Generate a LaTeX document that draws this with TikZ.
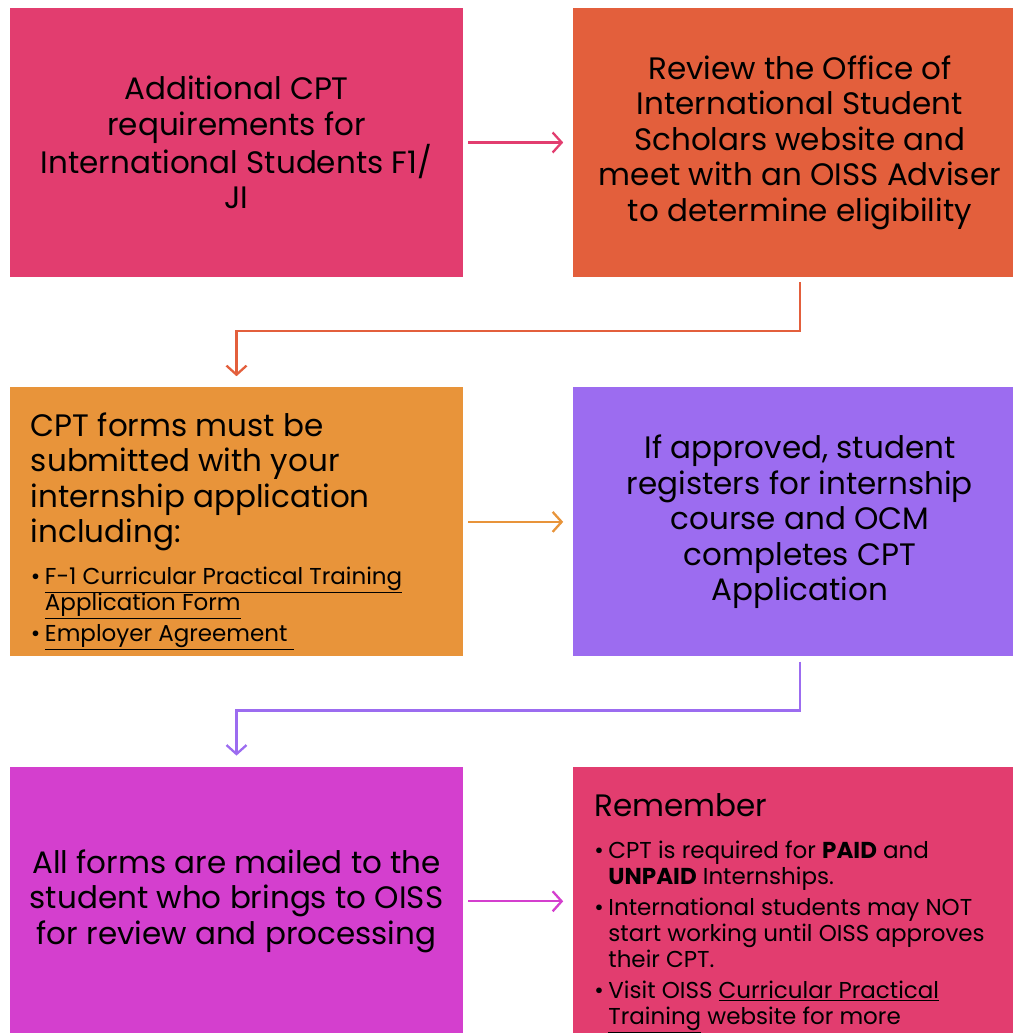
\documentclass[tikz,border=0pt]{standalone}
\usepackage{fontspec}
\setmainfont{Poppins}
\usetikzlibrary{positioning, arrows.meta}

\definecolor{cpink}{HTML}{E23D6F}
\definecolor{cred}{HTML}{E35F3C}
\definecolor{corange}{HTML}{E8943A}
\definecolor{cpurple}{HTML}{9C6CF0}
\definecolor{cmagenta}{HTML}{D43FCE}

\newcommand{\bigtxt}{\fontsize{31}{35.5}\selectfont}
\newcommand{\smalltxt}{\fontsize{23}{26}\selectfont}
\newcommand{\itm}[1]{\par\vspace{5pt}\hangindent=14pt\hangafter=1\noindent\makebox[14pt][l]{\textbullet}#1}

\tikzset{node distance=110pt, % gap between the boxes
    box/.style={ % coloured step boxes
    rectangle,
    minimum width=453pt,
    minimum height=269pt,
    inner sep=0pt,
    align=center,
    font=\bigtxt},
    flow/.style={ % connectors between the steps
    -{Straight Barb[length=9pt, width=20pt]},
    line width=2.3pt}}

\begin{document}
\begin{tikzpicture}
    \useasboundingbox (-236.5pt,142.5pt) rectangle ++(1012pt,-1033pt);

    % Top row
    \node[box, fill=cpink] (add) at (0,0) {Additional CPT\\requirements for\\International Students F1/\\JI};
    \node[box, fill=cred, right=of add] (rev) {Review the Office of\\International Student\\Scholars website and\\meet with an OISS Adviser\\to determine eligibility};

    % Middle row
    \node[box, fill=corange, below=of add] (forms) {%
        \begin{minipage}{411pt}\raggedright
        \vspace*{19pt}
        CPT forms must be\\submitted with your\\internship application\\including:\par
        \vspace{11pt}\smalltxt
        \itm{\underline{F-1 Curricular Practical Training}\newline\underline{Application Form}}
        \itm{\underline{Employer Agreement\ }}
        \end{minipage}};
    \node[box, fill=cpurple, right=of forms] (reg) {If approved, student\\registers for internship\\course and OCM\\completes CPT\\Application};

    % Bottom row
    \node[box, fill=cmagenta, below=of forms] (mail) {All forms are mailed to the\\student who brings to OISS\\for review and processing};
    \node[box, fill=cpink, right=of mail] (rem) {};
    \node[anchor=north west, inner sep=0pt, font=\bigtxt] (remtxt) at ([xshift=21pt,yshift=-27pt]rem.north west) {%
        \begin{minipage}{425pt}\raggedright
        Remember\par
        \vspace{11pt}\smalltxt
        \itm{CPT is required for \textbf{PAID} and\newline\textbf{UNPAID} Internships.}
        \itm{International students may NOT\newline start working until OISS approves\newline their CPT.}
        \itm{Visit OISS \underline{Curricular Practical}\newline\underline{Training} website for more}
        \end{minipage}};

    % Connectors
    \draw[flow, cpink, shorten <=5pt, shorten >=10pt] (add) -- (rev);
    \draw[flow, cred, shorten <=5pt, shorten >=11pt] (rev.south) -- ++(0,-54pt) -| (forms.north);
    \draw[flow, corange, shorten <=5pt, shorten >=10pt] (forms) -- (reg);
    \draw[flow, cpurple, shorten <=5pt, shorten >=11pt] (reg.south) -- ++(0,-54pt) -| (mail.north);
    \draw[flow, cmagenta, shorten <=5pt, shorten >=10pt] (mail) -- (rem);
\end{tikzpicture}
\end{document}
